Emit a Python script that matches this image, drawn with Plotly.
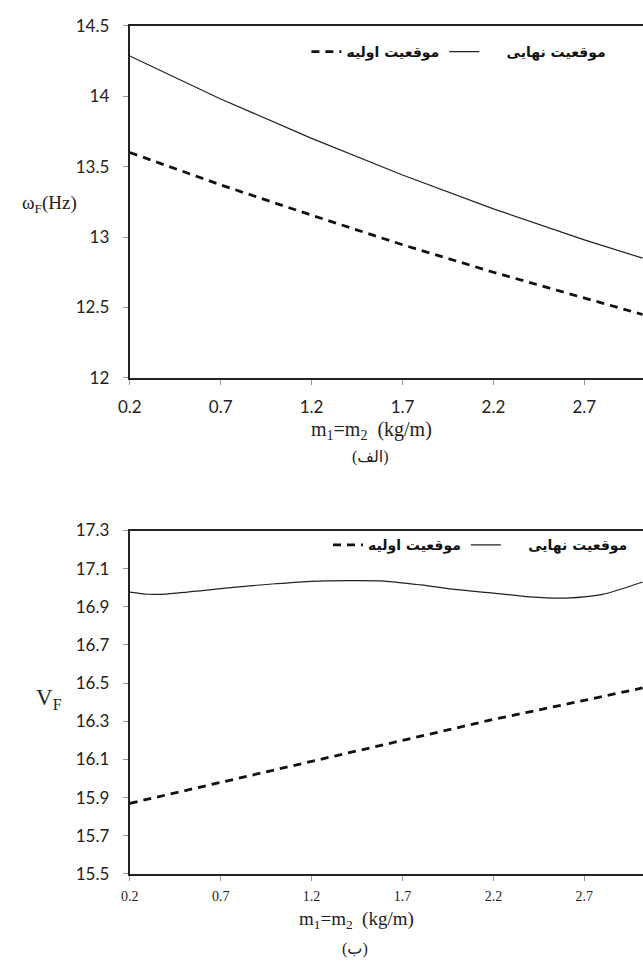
import plotly.graph_objects as go

# ---- data ----
x_top = [0.2, 0.7, 1.2, 1.7, 2.2, 2.7, 3.02]
omega_final = [14.285, 13.98, 13.70, 13.44, 13.20, 12.98, 12.85]
omega_initial = [13.60, 13.37, 13.155, 12.945, 12.75, 12.565, 12.45]

x_bot_final = [0.2, 0.3, 0.4, 0.6, 0.8, 1.0, 1.2, 1.4, 1.6, 1.8, 2.0, 2.2, 2.4, 2.6, 2.8, 3.02]
v_final = [16.977, 16.966, 16.967, 16.985, 17.005, 17.021, 17.034, 17.037, 17.035,
           17.015, 16.99, 16.972, 16.952, 16.946, 16.965, 17.03]
x_bot_initial = [0.2, 0.7, 1.2, 1.7, 2.2, 2.7, 3.02]
v_initial = [15.87, 15.98, 16.09, 16.20, 16.31, 16.41, 16.475]

x_ticks = [0.2, 0.7, 1.2, 1.7, 2.2, 2.7]
x_ticktext = ["0.2", "0.7", "1.2", "1.7", "2.2", "2.7"]
y_top_ticks = [12, 12.5, 13, 13.5, 14, 14.5]
y_top_text = ["12", "12.5", "13", "13.5", "14", "14.5"]
y_bot_ticks = [15.5, 15.7, 15.9, 16.1, 16.3, 16.5, 16.7, 16.9, 17.1, 17.3]
y_bot_text = ["15.5", "15.7", "15.9", "16.1", "16.3", "16.5", "16.7", "16.9", "17.1", "17.3"]

name_initial = "<b>موقعیت اولیه</b>"
name_final = "\u00a0\u00a0\u00a0\u00a0\u00a0<b>موقعیت نهایی</b>"

W, H = 643, 972
def py(px):  # pixel from top -> paper y
    return 1 - px / H
def pxx(px):
    return px / W

fig = go.Figure()
dash_style = dict(color="#111111", width=2.8, dash="8px,6px")
solid_style = dict(color="#222222", width=1.2)

fig.add_trace(go.Scatter(x=x_top, y=omega_initial, mode="lines", line=dash_style,
                         name=name_initial, legend="legend", xaxis="x", yaxis="y"))
fig.add_trace(go.Scatter(x=x_top, y=omega_final, mode="lines", line=solid_style,
                         name=name_final, legend="legend", xaxis="x", yaxis="y"))
fig.add_trace(go.Scatter(x=x_bot_initial, y=v_initial, mode="lines", line=dash_style,
                         name=name_initial, legend="legend2", xaxis="x2", yaxis="y2"))
fig.add_trace(go.Scatter(x=x_bot_final, y=v_final, mode="lines",
                         line=dict(**solid_style, shape="spline", smoothing=0.7),
                         name=name_final, legend="legend2", xaxis="x2", yaxis="y2"))

xdom = [pxx(120), 1.0]
xrange = [0.2, 0.2 + (643 - 120) / 185.3]

common_x = dict(showline=True, linecolor="#222222", linewidth=2.2, mirror=True,
                ticks="outside", ticklen=5, tickcolor="#999999", tickwidth=1,
                showgrid=False, zeroline=False, range=xrange, domain=xdom,
                tickvals=x_ticks, ticktext=x_ticktext)
common_y = dict(showline=True, linecolor="#222222", linewidth=2.2, mirror=False,
                ticks="outside", ticklen=5, tickcolor="#999999", tickwidth=1,
                showgrid=False, zeroline=False, ticklabelstandoff=10,
                tickfont=dict(family="Lato", size=17, color="#222222"))

legend_font = dict(family="DejaVu Sans", size=14, color="#111111")

fig.update_layout(
    width=W, height=H,
    margin=dict(l=0, r=0, t=0, b=0),
    paper_bgcolor="white", plot_bgcolor="white",
    showlegend=True,
    xaxis=dict(**common_x, anchor="y",
               tickfont=dict(family="Lato", size=17, color="#222222"), ticklabelstandoff=8),
    yaxis=dict(**common_y, anchor="x", domain=[py(375), py(15)], range=[12, 14.5],
               tickvals=y_top_ticks, ticktext=y_top_text),
    xaxis2=dict(**common_x, anchor="y2",
                tickfont=dict(family="Liberation Serif", size=14, color="#222222"), ticklabelstandoff=3),
    yaxis2=dict(**common_y, anchor="x2", domain=[py(882), py(531)], range=[15.5, 17.3],
                tickvals=y_bot_ticks, ticktext=y_bot_text),
    legend=dict(orientation="h", x=pxx(300), y=py(42), xanchor="left", yanchor="middle",
                font=legend_font, bgcolor="rgba(0,0,0,0)", itemwidth=30),
    legend2=dict(orientation="h", x=pxx(322), y=py(546), xanchor="left", yanchor="middle",
                 font=legend_font, bgcolor="rgba(0,0,0,0)", itemwidth=30),
)

serif = "Liberation Serif, DejaVu Sans"
annotations = [
    dict(text="ω<sub>F</sub>(Hz)", x=pxx(38), y=py(197), font=dict(family=serif, size=19, color="#222")),
    dict(text="V<sub>F</sub>", x=pxx(38), y=py(703), font=dict(family=serif, size=23, color="#222")),
    dict(text="m<sub>1</sub>=m<sub>2</sub>\u00a0\u00a0(kg/m)", x=pxx(366), y=py(429),
         font=dict(family=serif, size=20, color="#222")),
    dict(text="(الف)", x=pxx(365), y=py(456), font=dict(family=serif, size=16, color="#222")),
    dict(text="m<sub>1</sub>=m<sub>2</sub>\u00a0\u00a0(kg/m)", x=pxx(351), y=py(929),
         font=dict(family=serif, size=19, color="#222")),
    dict(text="(ب)", x=pxx(350), y=py(959), font=dict(family=serif, size=16, color="#222")),
]
for a in annotations:
    fig.add_annotation(xref="paper", yref="paper", showarrow=False,
                       xanchor="center", yanchor="middle", **a)

fig.write_html("out.html")
